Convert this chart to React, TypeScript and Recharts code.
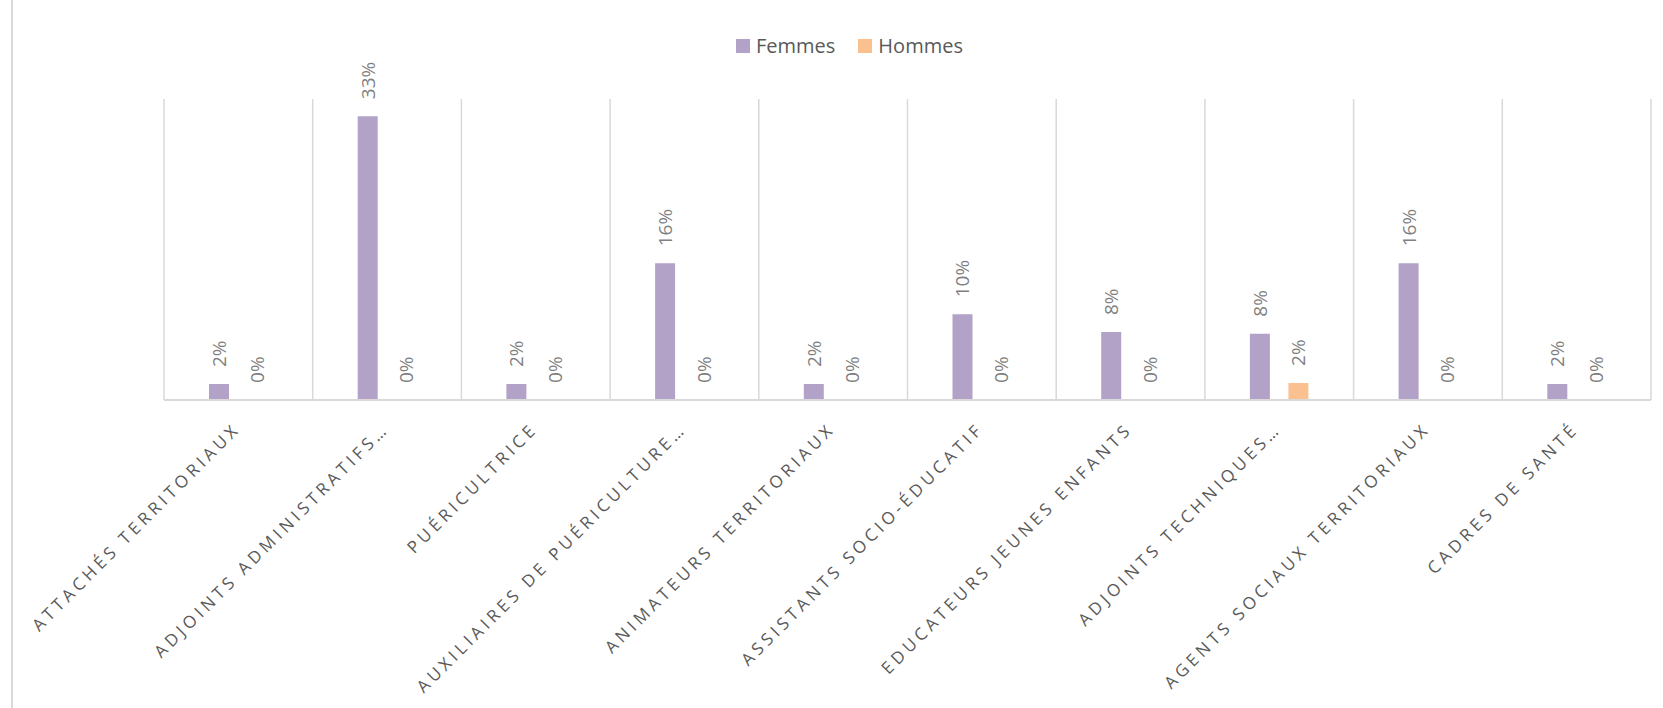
import React from "react";
import {
  BarChart,
  Bar,
  XAxis,
  YAxis,
  CartesianGrid,
  LabelList,
} from "recharts";

const categories = [
  "ATTACHÉS TERRITORIAUX",
  "ADJOINTS ADMINISTRATIFS…",
  "PUÉRICULTRICE",
  "AUXILIAIRES DE PUÉRICULTURE…",
  "ANIMATEURS TERRITORIAUX",
  "ASSISTANTS SOCIO-ÉDUCATIF",
  "EDUCATEURS JEUNES ENFANTS",
  "ADJOINTS TECHNIQUES…",
  "AGENTS SOCIAUX TERRITORIAUX",
  "CADRES DE SANTÉ",
];

const femmes = [0.0186, 0.33, 0.0186, 0.159, 0.0186, 0.0996, 0.079, 0.0771, 0.159, 0.0186];
const hommes = [0, 0, 0, 0, 0, 0, 0, 0.0198, 0, 0];

const series = [
  { key: "Femmes", color: "#b3a2c7" },
  { key: "Hommes", color: "#fac090" },
];

const data = categories.map((name, i) => ({
  name,
  Femmes: femmes[i],
  Hommes: hommes[i],
}));

const FONT = "'Open Sans', sans-serif";

const CategoryTick = ({ x, y, payload }: any) => {
  const ax = x + 3;
  const ay = y + 30;
  return (
    <text
      x={ax}
      y={ay}
      transform={`rotate(-45, ${ax}, ${ay})`}
      textAnchor="end"
      fill="#595959"
      fontSize={17}
      letterSpacing={4}
      fontFamily={FONT}
    >
      {payload.value}
    </text>
  );
};

const ValueLabel = (props: any) => {
  const { x, y, width, value } = props;
  const cx = Number(x) + Number(width) / 2;
  const ty = Number(y) - 17;
  return (
    <text
      x={cx}
      y={ty}
      transform={`rotate(-90, ${cx}, ${ty})`}
      textAnchor="start"
      dominantBaseline="central"
      fill="#7f7f7f"
      fontSize={19}
      fontFamily={FONT}
    >
      {Math.round(Number(value) * 100)}%
    </text>
  );
};

const App = () => {
  return (
    <div style={{ position: "absolute", left: 0, top: 0, width: 1663, height: 708, background: "#fff" }}>
      <div
        style={{
          position: "absolute",
          left: 11,
          top: 0,
          width: 2,
          height: 708,
          background: "#d9d9d9",
        }}
      />
      <div
        style={{
          position: "absolute",
          top: 32,
          left: 736,
          display: "flex",
          alignItems: "center",
          fontFamily: FONT,
          fontSize: 20,
          color: "#595959",
          whiteSpace: "nowrap",
        }}
      >
        {series.map((s, i) => (
          <React.Fragment key={s.key}>
            <span style={{ width: 14, height: 14, background: s.color, display: "inline-block", marginRight: 6 }} />
            <span style={{ marginRight: i === 0 ? 23 : 0 }}>{s.key}</span>
          </React.Fragment>
        ))}
      </div>
      <BarChart
        width={1663}
        height={708}
        data={data}
        margin={{ top: 99, right: 12, left: 164, bottom: 0 }}
        barSize={20}
        barGap={18.5}
      >
        <CartesianGrid
          horizontal={false}
          stroke="#d9d9d9"
          strokeWidth={1.5}
          verticalCoordinatesGenerator={({ offset }: any) =>
            categories.concat([""]).map((_, i) => offset.left + (i * offset.width) / categories.length)
          }
        />
        <XAxis
          dataKey="name"
          interval={0}
          height={308}
          tickLine={false}
          tickSize={0}
          tickMargin={0}
          axisLine={{ stroke: "#d9d9d9", strokeWidth: 2 }}
          tick={<CategoryTick />}
        />
        <YAxis hide domain={[0, 0.35]} />
        {series.map((s) => (
          <Bar key={s.key} dataKey={s.key} fill={s.color} minPointSize={0.01} isAnimationActive={false}>
            <LabelList dataKey={s.key} content={<ValueLabel />} />
          </Bar>
        ))}
      </BarChart>
    </div>
  );
};

export default App;
